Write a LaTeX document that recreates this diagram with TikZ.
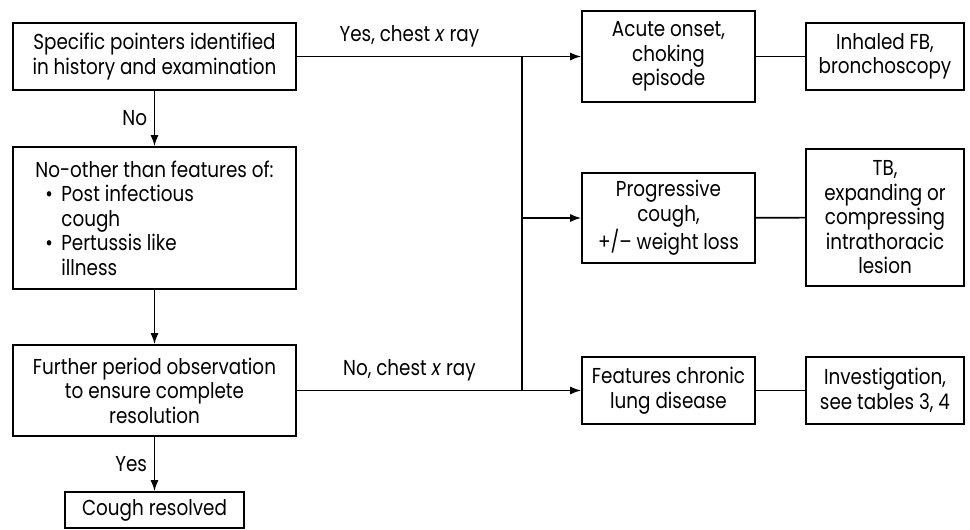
\documentclass[tikz,border=0pt]{standalone}
\usepackage{fontspec}
\setmainfont{Poppins}[FakeStretch=0.85]
\usetikzlibrary{arrows.meta}

\newcommand{\bulletline}{\hspace*{5pt}\makebox[8pt][l]{\textbullet}}
\newcommand{\hangline}{\hspace*{13pt}}

\begin{document}
\begin{tikzpicture}[x=0.5pt, y=-0.5pt, font=\fontsize{10.8}{12.25}\selectfont,
   box/.style={draw, line width=0.8pt, align=center, inner sep=2pt},
   arr/.style={-{Latex[length=5.5pt,width=4pt]}, line width=0.8pt},
   link/.style={line width=0.8pt}]
   \useasboundingbox (0,0) rectangle (970,530);
   % left column
   \node [box, minimum width=141.5pt, minimum height=33.5pt] (pointers) at (154.5,56.5)
      {Specific pointers identified\\in history and examination};
   \node [box, align=left, minimum width=141.5pt, minimum height=71pt] (features) at (154.5,218)
      {No-other than features of:\\
       \bulletline Post infectious\\
       \hangline cough\\
       \bulletline Pertussis like\\
       \hangline illness};
   \node [box, minimum width=141.5pt, minimum height=45.5pt] (further) at (154.5,390.5)
      {Further period observation\\to ensure complete\\resolution};
   \node [box, minimum width=89.5pt, minimum height=18pt] (resolved) at (154.5,510)
      {Cough resolved};
   % middle column
   \node [box, minimum width=86.5pt, minimum height=45.5pt] (acute) at (668.5,56.5)
      {Acute onset,\\choking\\episode};
   \node [box, minimum width=86.5pt, minimum height=45pt] (progressive) at (668.5,218)
      {Progressive\\cough,\\+/-- weight loss};
   \node [box, minimum width=86.5pt, minimum height=33.5pt] (chronic) at (668.5,390.5)
      {Features chronic\\lung disease};
   % right column
   \node [box, minimum width=79pt, minimum height=33.5pt] (inhaled) at (885,56.5)
      {Inhaled FB,\\bronchoscopy};
   \node [box, minimum width=79pt, minimum height=68.5pt] (tb) at (885,217.5)
      {TB,\\expanding or\\compressing\\intrathoracic\\lesion};
   \node [box, minimum width=79pt, minimum height=33.5pt] (investigation) at (885,390.5)
      {Investigation,\\see tables 3, 4};
   % junction
   \coordinate (jtop) at (522,56.5);
   \coordinate (jbot) at (522,390.5);

   \draw[arr] (pointers.south) -- node[left]{No} (features.north);
   \draw[arr] (features.south) -- (further.north);
   \draw[arr] (further.south) -- node[left]{Yes} (resolved.north);

   \draw[link] (pointers.east) -- node[above, yshift=1pt]{Yes, chest \textit{x} ray} (jtop);
   \draw[link] (further.east) -- node[above, yshift=1pt]{No, chest \textit{x} ray} (jbot);
   \draw[link] (jtop) -- (jbot);
   \draw[arr] (jtop) -- (acute.west);
   \draw[arr] (jtop |- progressive.west) -- (progressive.west);
   \draw[arr] (jbot) -- (chronic.west);

   \draw[link] (acute) -- (inhaled);
   \draw[link] (progressive) -- (tb);
   \draw[link] (chronic) -- (investigation);
\end{tikzpicture}
\end{document}
